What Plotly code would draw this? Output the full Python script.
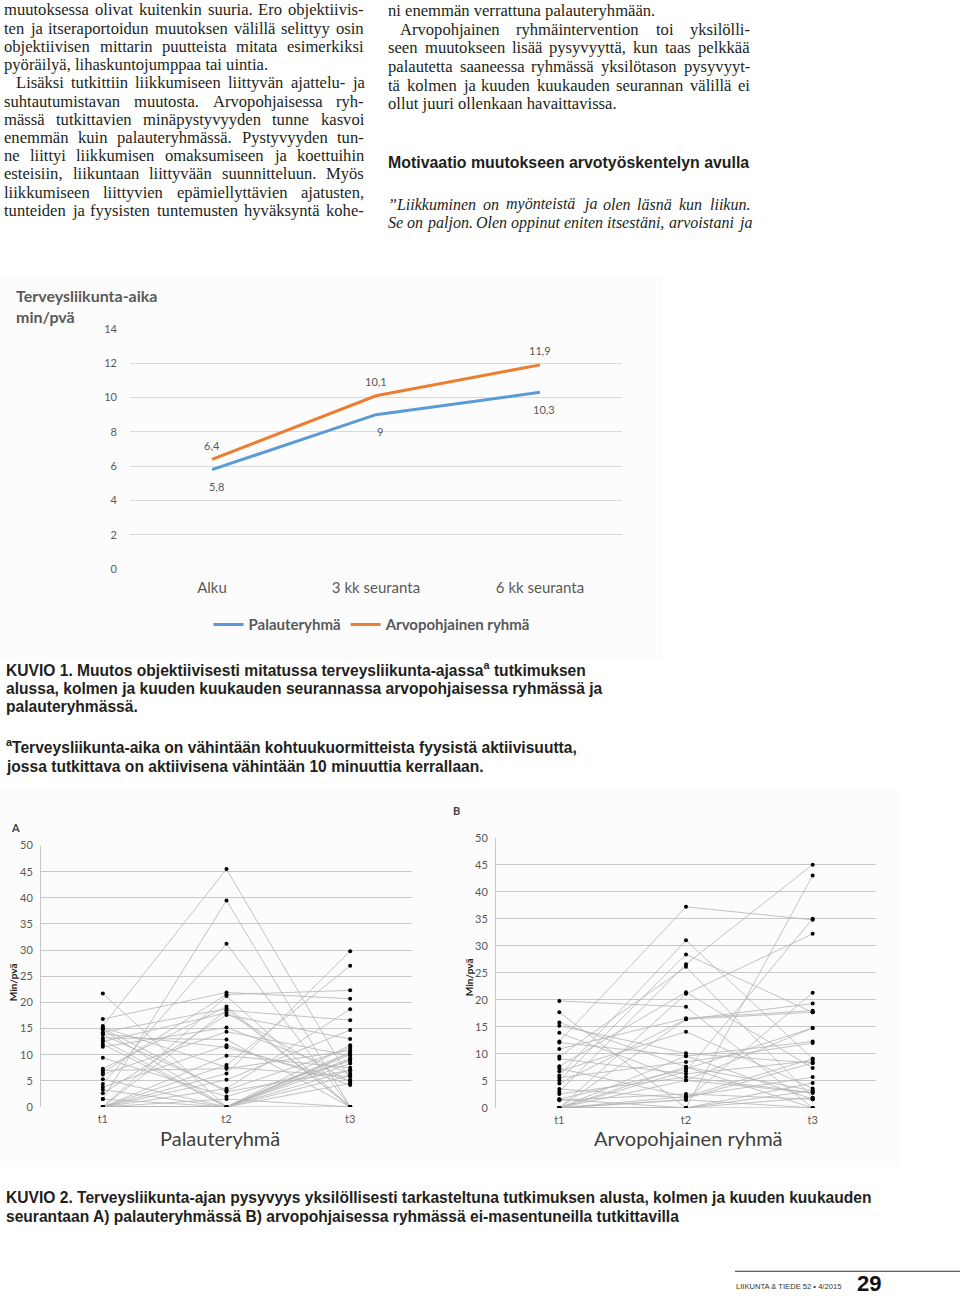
import plotly.graph_objects as go

# ---------------- DATA ----------------
CATEGORIES = ["Alku", "3 kk seuranta", "6 kk seuranta"]
PALAUTE = [5.8, 9.0, 10.3]
ARVO = [6.4, 10.1, 11.9]
Y_TICKS_1 = [0, 2, 4, 6, 8, 10, 12, 14]

TIMEPOINTS = ["t1", "t2", "t3"]
Y_TICKS_2 = [0, 5, 10, 15, 20, 25, 30, 35, 40, 45, 50]

# Panel A (Palauteryhmä): one entry per participant
A_T1 = [21.7, 16.8, 15.5, 15.2, 14.8, 14.3, 13.8, 13.2, 12.5, 12.0, 11.5, 9.4, 7.3, 7.0, 6.6, 6.2, 5.3, 4.4, 3.8,
        3.3, 2.6, 1.5, 0.0, 0.0, 0.0, 0.0, 0.0, 0.0, 0.0, 0.0, 0.0, 0.0, 14.0, 15.0, 12.8, 0.0, 0.0, 1.5]
A_T2 = [0.0, 21.9, 45.5, 7.6, 0.0, 18.8, 3.2, 12.9, 18.0, 0.0, 15.2, 2.0, 19.2, 7.3, 21.5, 14.4, 0.0, 31.2, 11.8,
        0.0, 17.6, 39.5, 21.2, 18.5, 9.8, 6.4, 8.0, 0.0, 0.0, 3.5, 5.2, 1.5, 11.4, 2.9, 0.0, 0.0, 0.0, 0.0]
A_T3 = [10.3, 20.7, 5.2, 5.8, 9.3, 0.0, 11.3, 0.0, 4.8, 7.0, 6.4, 8.8, 0.0, 10.8, 22.3, 9.8, 11.8, 0.0, 4.2,
        8.3, 13.0, 0.0, 0.0, 16.6, 7.5, 29.8, 27.0, 10.0, 9.0, 18.7, 14.7, 0.0, 5.0, 7.0, 10.5, 0.0, 6.0, 4.5]

# Panel B (Arvopohjainen ryhmä)
B_T1 = [19.8, 17.7, 15.8, 15.2, 13.9, 12.3, 12.1, 10.9, 9.5, 9.1, 7.7, 7.3, 6.8, 6.0, 5.6, 5.1, 4.5, 3.5, 3.0,
        2.6, 1.6, 1.4, 0.0, 0.0, 0.0, 0.0, 0.0, 0.0, 0.0, 0.0, 0.0, 0.0, 1.6, 0.0, 0.0]
B_T2 = [18.7, 0.0, 7.6, 10.1, 5.1, 37.2, 9.6, 16.6, 26.1, 6.3, 21.4, 2.1, 14.1, 31.0, 8.5, 28.4, 16.4, 1.8, 26.6,
        5.7, 7.2, 2.6, 21.1, 0.0, 6.8, 1.5, 9.6, 1.5, 0.0, 5.1, 2.1, 0.0, 0.0, 16.4, 7.6]
B_T3 = [0.0, 4.6, 3.2, 8.3, 2.8, 34.8, 1.6, 18.0, 1.9, 8.7, 7.4, 5.7, 3.6, 9.1, 12.0, 17.7, 19.3, 8.3, 45.0,
        2.8, 14.8, 1.6, 32.2, 43.0, 35.0, 21.3, 12.3, 0.0, 3.2, 14.8, 9.1, 1.9, 0.0, 17.7, 0.0]

# ---------------- TEXT ----------------
LEFT_COL = [
    "muutoksessa olivat kuitenkin suuria. Ero objektiivis-",
    "ten ja itseraportoidun muutoksen välillä selittyy osin",
    "objektiivisen mittarin puutteista mitata esimerkiksi",
    "pyöräilyä, lihaskuntojumppaa tai uintia.",
    "Lisäksi tutkittiin liikkumiseen liittyvän ajattelu- ja",
    "suhtautumistavan muutosta. Arvopohjaisessa ryh-",
    "mässä tutkittavien minäpystyvyyden tunne kasvoi",
    "enemmän kuin palauteryhmässä. Pystyvyyden tun-",
    "ne liittyi liikkumisen omaksumiseen ja koettuihin",
    "esteisiin, liikuntaan liittyvään suunnitteluun. Myös",
    "liikkumiseen liittyvien epämiellyttävien ajatusten,",
    "tunteiden ja fyysisten tuntemusten hyväksyntä kohe-",
]
LEFT_INDENT = [False, False, False, False, True, False, False, False, False, False, False, False]
LEFT_LAST = [False, False, False, True, False, False, False, False, False, False, False, False]
RIGHT_COL = [
    "ni enemmän verrattuna palauteryhmään.",
    "Arvopohjainen ryhmäintervention toi yksilölli-",
    "seen muutokseen lisää pysyvyyttä, kun taas pelkkää",
    "palautetta saaneessa ryhmässä yksilötason pysyvyyt-",
    "tä kolmen ja kuuden kuukauden seurannan välillä ei",
    "ollut juuri ollenkaan havaittavissa.",
]
RIGHT_INDENT = [False, True, False, False, False, False]
RIGHT_LAST = [True, False, False, False, False, True]
HEADING = "Motivaatio muutokseen arvotyöskentelyn avulla"
QUOTE = [
    "”Liikkuminen on myönteistä ja olen läsnä kun liikun.",
    "Se on paljon. Olen oppinut eniten itsestäni, arvoistani ja",
]
CAPTION1 = [
    "KUVIO 1. Muutos objektiivisesti mitatussa terveysliikunta-ajassa<sup>a</sup> tutkimuksen",
    "alussa, kolmen ja kuuden kuukauden seurannassa arvopohjaisessa ryhmässä ja",
    "palauteryhmässä.",
]
FOOTNOTE1 = [
    "<sup>a</sup>Terveysliikunta-aika on vähintään kohtuukuormitteista fyysistä aktiivisuutta,",
    "jossa tutkittava on aktiivisena vähintään 10 minuuttia kerrallaan.",
]
CAPTION2 = [
    "KUVIO 2. Terveysliikunta-ajan pysyvyys yksilöllisesti tarkasteltuna tutkimuksen alusta, kolmen ja kuuden kuukauden",
    "seurantaan A) palauteryhmässä B) arvopohjaisessa ryhmässä ei-masentuneilla tutkittavilla",
]

W, H = 960, 1306


def px(x):
    return x / W


def py(y):
    return 1 - y / H


SERIF = "Liberation Serif, Times New Roman, serif"
SANS = "Liberation Sans, Arial, sans-serif"
CAP = "Liberation Sans Narrow, Arial Narrow, Liberation Sans, sans-serif"
CHART = "Lato, Open Sans, sans-serif"
TXT = "#231f20"
GREY = "#595959"

BLUE = "#5b9bd5"
ORANGE = "#ed7d31"

# Times (Liberation Serif) advance widths, per 1000 em, used for justification
_ROMAN = dict(zip("abcdefghijklmnopqrstuvwxyz",
                  [444, 500, 444, 500, 444, 333, 500, 500, 278, 278, 500, 278, 778, 500, 500, 500, 500, 333, 389,
                   278, 500, 500, 722, 500, 500, 444]))
_ROMAN.update(dict(zip("ABCDEFGHIJKLMNOPQRSTUVWXYZ",
                       [722, 667, 667, 722, 611, 556, 722, 722, 333, 389, 722, 611, 889, 722, 722, 556, 722, 667,
                        556, 611, 722, 722, 944, 722, 722, 611])))
_ROMAN.update({" ": 250, ",": 250, ".": 250, "-": 333, "ä": 444, "ö": 500, "å": 444, "”": 444, "0": 500})
_ITALIC = dict(zip("abcdefghijklmnopqrstuvwxyz",
                   [500, 500, 444, 500, 444, 278, 500, 500, 278, 278, 444, 278, 722, 500, 500, 500, 500, 389, 389,
                    278, 500, 444, 667, 444, 444, 389]))
_ITALIC.update({" ": 250, ",": 250, ".": 250, "-": 333, "ä": 500, "ö": 500, "”": 556, "L": 556, "S": 500,
                "O": 722})


def text_width(s, size, table):
    return sum(table.get(ch, 500) for ch in s) / 1000 * size


fig = go.Figure()

# ---------- Chart 1 ----------
fig.add_trace(go.Scatter(x=CATEGORIES, y=PALAUTE, mode="lines", name="Palauteryhmä",
                         line=dict(color=BLUE, width=3), xaxis="x", yaxis="y"))
fig.add_trace(go.Scatter(x=CATEGORIES, y=ARVO, mode="lines", name="Arvopohjainen ryhmä",
                         line=dict(color=ORANGE, width=3), xaxis="x", yaxis="y"))

annotations = []


def fmt(v):
    return f"{v:g}".replace(".", ",")


for c, v in zip(CATEGORIES, ARVO):
    annotations.append(dict(x=c, y=v, xref="x", yref="y", text=fmt(v), showarrow=False,
                            yshift=14, font=dict(family=CHART, size=11, color=GREY)))
for c, v in zip(CATEGORIES, PALAUTE):
    annotations.append(dict(x=c, y=v, xref="x", yref="y", text=fmt(v), showarrow=False,
                            yshift=-17, xshift=4, font=dict(family=CHART, size=11, color=GREY)))


# ---------- Spaghetti panels ----------
def spaghetti(t1, t2, t3, xa, ya):
    xs, ys = [], []
    for a, b, c in zip(t1, t2, t3):
        xs += TIMEPOINTS + [None]
        ys += [a, b, c, None]
    fig.add_trace(go.Scatter(x=xs, y=ys, mode="lines", line=dict(color="#b4b4b4", width=0.8),
                             showlegend=False, hoverinfo="skip", xaxis=xa, yaxis=ya))
    mx, my = [], []
    for a, b, c in zip(t1, t2, t3):
        mx += TIMEPOINTS
        my += [a, b, c]
    fig.add_trace(go.Scatter(x=mx, y=my, mode="markers", marker=dict(color="#000000", size=4),
                             showlegend=False, xaxis=xa, yaxis=ya))


spaghetti(A_T1, A_T2, A_T3, "x2", "y2")
spaghetti(B_T1, B_T2, B_T3, "x3", "y3")


# ---------- Text annotations ----------
def text(x, y, s, family, size, color=TXT, xanchor="left", **kw):
    annotations.append(dict(x=px(x), y=py(y), xref="paper", yref="paper", text=s, showarrow=False,
                            xanchor=xanchor, yanchor="middle", align="left", borderpad=0,
                            font=dict(family=family, size=size, color=color), **kw))


def justified(x0, x1, y, s, size, table, last, wrap=("", "")):
    if last:
        text(x0, y, wrap[0] + s + wrap[1], SERIF, size)
        return
    words = s.split(" ")
    widths = [text_width(w, size, table) for w in words]
    gap = (x1 - x0 - sum(widths)) / max(len(words) - 1, 1)
    gap = max(gap, 0.25 * size)
    x = x0
    for w, wd in zip(words, widths):
        text(x, y, wrap[0] + w + wrap[1], SERIF, size)
        x += wd + gap


BODY = 16.6
for i, (s, ind, last) in enumerate(zip(LEFT_COL, LEFT_INDENT, LEFT_LAST)):
    justified(3 + (12 if ind else 0), 363, 3 + i * 18.4, s, BODY, _ROMAN, last)
for i, (s, ind, last) in enumerate(zip(RIGHT_COL, RIGHT_INDENT, RIGHT_LAST)):
    justified(387 + (12 if ind else 0), 749, 4 + i * 18.7, s, BODY, _ROMAN, last)
text(387, 157, "<b>" + HEADING + "</b>", SANS, 15.9)
for i, s in enumerate(QUOTE):
    justified(387, 749, 199 + i * 18.7, s, 16, _ITALIC, False, ("<i>", "</i>"))

# chart 1 title
text(15, 291, "<b>Terveysliikunta-aika</b>", CHART, 16, GREY)
text(15, 313, "<b>min/pvä</b>", CHART, 16, GREY)

for i, s in enumerate(CAPTION1):
    text(5, 669 + i * 19, "<b>" + s + "</b>", CAP, 15.6)
for i, s in enumerate(FOOTNOTE1):
    text(5, 746 + i * 21, "<b>" + s + "</b>", CAP, 15.6)
for i, s in enumerate(CAPTION2):
    text(5, 1202 + i * 19.5, "<b>" + s + "</b>", CAP, 15.6)

# panel labels and titles
text(10, 829, "<b>A</b>", CHART, 11, "#404040")
text(452, 812, "<b>B</b>", CHART, 11, "#404040")
text(220, 1142, "Palauteryhmä", CHART, 20, "#404040", xanchor="center")
text(688, 1142, "Arvopohjainen ryhmä", CHART, 20, "#404040", xanchor="center")
text(13, 985, "<b>Min/pvä</b>", CHART, 10, "#262626", xanchor="center", textangle=-90)
text(469, 980, "<b>Min/pvä</b>", CHART, 10, "#262626", xanchor="center", textangle=-90)

# footer
text(735, 1292, "LIIKUNTA &amp; TIEDE 52 • 4/2015", CAP, 7.6, "#333333")
text(856, 1289, "<b>29</b>", CAP, 22, "#111111")

shapes = [
    dict(type="rect", xref="paper", yref="paper", x0=px(0), x1=px(663), y0=py(658), y1=py(272),
         fillcolor="#fcfcfc", line=dict(width=0), layer="below"),
    dict(type="rect", xref="paper", yref="paper", x0=px(0), x1=px(898), y0=py(1172), y1=py(788),
         fillcolor="#fcfcfc", line=dict(width=0), layer="below"),
    dict(type="line", xref="paper", yref="paper", x0=px(735), x1=px(960), y0=py(1277), y1=py(1277),
         line=dict(color="#333333", width=1)),
]

tickfont = dict(family=CHART, size=11, color=GREY)

fig.update_layout(
    width=W, height=H, margin=dict(l=0, r=0, t=0, b=0),
    paper_bgcolor="white", plot_bgcolor="rgba(0,0,0,0)",
    showlegend=True,
    legend=dict(orientation="h", x=px(372), y=py(624), xanchor="center", yanchor="middle",
                font=dict(family=CHART, size=15, color=GREY, weight="bold"), itemwidth=30,
                bgcolor="rgba(0,0,0,0)", traceorder="normal"),
    xaxis=dict(domain=[px(130), px(622)], type="category", categoryorder="array", categoryarray=CATEGORIES,
               range=[-0.5, 2.5], showgrid=False, showline=False, ticks="", anchor="y",
               tickfont=dict(family=CHART, size=15, color=GREY), ticklabelstandoff=8, fixedrange=True),
    yaxis=dict(domain=[py(568), py(325)], range=[0, 14], tickvals=Y_TICKS_1, showgrid=True,
               gridcolor="#d9d9d9", gridwidth=1, zeroline=False, showline=False, ticks="", anchor="x",
               tickfont=tickfont, ticklabelstandoff=12),
    xaxis2=dict(domain=[px(41), px(412)], type="category", categoryorder="array", categoryarray=TIMEPOINTS,
                range=[-0.5, 2.5], showgrid=False, ticks="", anchor="y2", tickfont=tickfont,
                ticklabelstandoff=4),
    yaxis2=dict(domain=[py(1111), py(847)], range=[0, 50], tickvals=Y_TICKS_2, showgrid=True,
                gridcolor="#c8c8c8", gridwidth=1, zeroline=False, showline=True, linecolor="#c8c8c8",
                ticks="", anchor="x2", tickfont=tickfont, ticklabelstandoff=5),
    xaxis3=dict(domain=[px(496), px(876)], type="category", categoryorder="array", categoryarray=TIMEPOINTS,
                range=[-0.5, 2.5], showgrid=False, ticks="", anchor="y3", tickfont=tickfont,
                ticklabelstandoff=4),
    yaxis3=dict(domain=[py(1112), py(839)], range=[0, 50], tickvals=Y_TICKS_2, showgrid=True,
                gridcolor="#c8c8c8", gridwidth=1, zeroline=False, showline=True, linecolor="#c8c8c8",
                ticks="", anchor="x3", tickfont=tickfont, ticklabelstandoff=5),
    annotations=annotations,
    shapes=shapes,
)

fig.write_html("out.html")
